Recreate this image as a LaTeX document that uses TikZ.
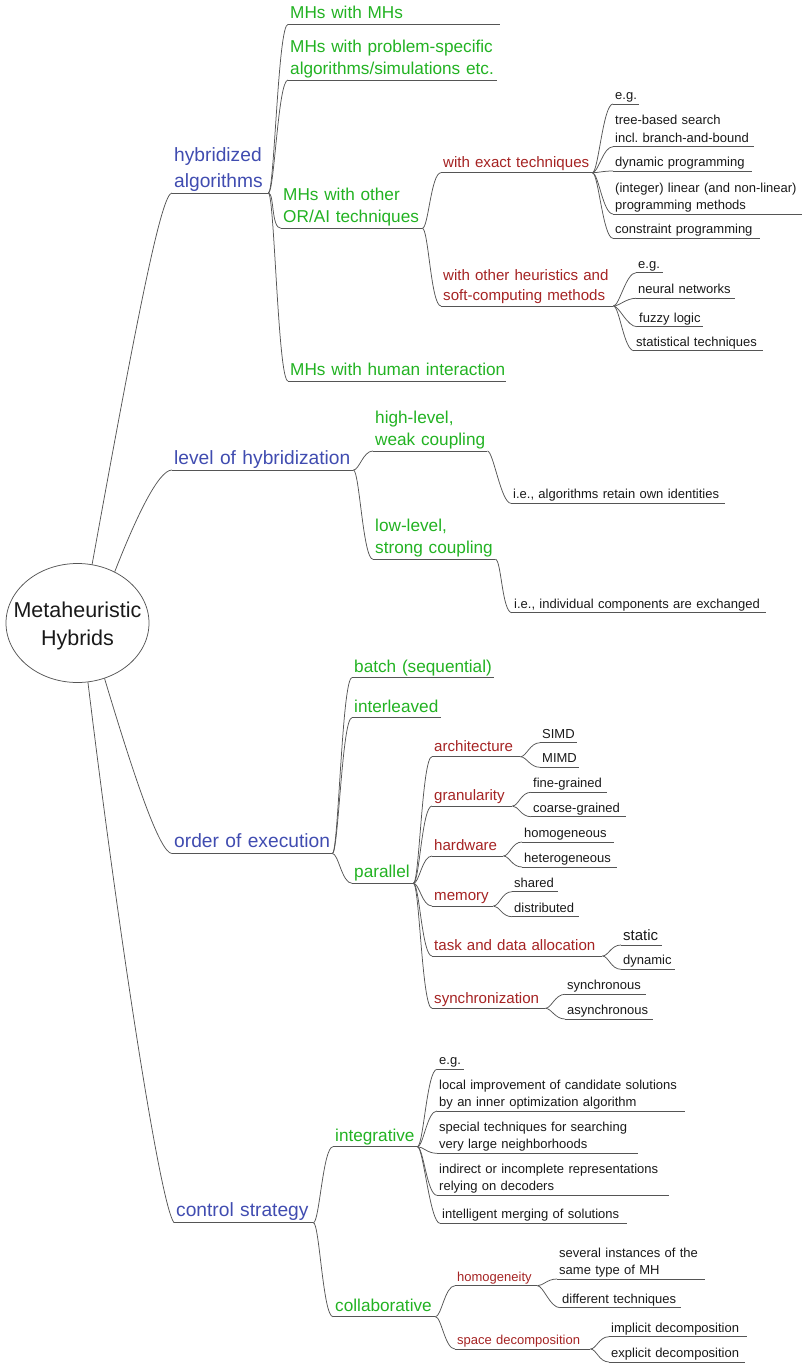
\documentclass[tikz,border=0pt]{standalone}
\usepackage{fontspec}
\setmainfont{Liberation Sans}
\usepackage{tikz}
\usetikzlibrary{shapes.geometric, positioning}
\definecolor{mmBlue}{RGB}{64, 76, 176}
\definecolor{mmGreen}{RGB}{34, 178, 34}
\definecolor{mmRed}{RGB}{165, 35, 35}
\definecolor{mmGray}{RGB}{85, 85, 85}
\definecolor{mmBlack}{RGB}{25, 25, 25}
\hyphenpenalty=10000
\exhyphenpenalty=10000

\begin{document}
\begin{tikzpicture}[
      x=1pt, y=-1pt,
      mm/.style      = {anchor=south west, inner xsep=2pt, inner ysep=1.5pt,
                        align=left,
                        execute at end node={\rule[-0.22em]{0pt}{0pt}}},
      lvone/.style   = {mm, text=mmBlue,  font=\fontsize{19.2}{25.6}\selectfont},
      lvtwo/.style   = {mm, text=mmGreen, font=\fontsize{17.2}{22.4}\selectfont},
      lvthree/.style = {mm, text=mmRed,   font=\fontsize{15.1}{20}\selectfont},
      lvsmall/.style = {mm, text=mmRed,   font=\fontsize{13}{17.2}\selectfont},
      leaf/.style    = {mm, text=mmBlack, font=\fontsize{13}{17.3}\selectfont},
      uline/.style   = {draw=mmGray, line width=0.75pt},
      link/.style    = {draw=mmGray, line width=0.75pt},
      twig/.style    = {out=0, in=180, out distance=6pt, in distance=10pt},
    ]
    \useasboundingbox (0,0) rectangle (802,1363);
    %% ── Root ───────────────────────────────────────────────────
    \node[draw=mmGray, line width=0.75pt, ellipse, inner sep=0pt,
          minimum width=143pt, minimum height=119pt,
          label={[align=center, text=mmBlack, yshift=-3pt,
                  font=\fontsize{21.5}{27.7}\selectfont]center:Metaheuristic\\Hybrids}]
          (root) at (77.5,623) {};
    %% ── Level 1 ────────────────────────────────────────────────
    \node[lvone, text width=92pt]  (hyb) at (172,193)    {hybridized\\algorithms};
    \node[lvone, text width=177pt] (lev) at (172,470)    {level of hybridization};
    \node[lvone, text width=156pt] (ord) at (172,853.5)  {order of execution};
    \node[lvone, text width=135pt] (ctl) at (174,1222.7) {control strategy};
    %% ── hybridized algorithms ──────────────────────────────────
    \node[lvtwo, text width=208pt] (mhmh) at (288,24.3) {MHs with MHs};
    \node[lvtwo, text width=205pt] (mhps) at (288,80)
      {MHs with problem-specific\\algorithms/simulations etc.};
    \node[lvtwo, text width=137pt] (mhor) at (281,228.3) {MHs with other\\OR/AI techniques};
    \node[lvtwo, text width=214pt] (mhhu) at (288,381)   {MHs~with~human~interaction};
    \node[lvthree, text width=147pt] (exact) at (441,172.7) {with exact techniques};
    \node[lvthree, text width=168pt] (other) at (441,306)
      {with other heuristics and\\soft-computing methods};
    \node[leaf, text width=22pt]  (egA)    at (613,104)   {e.g.};
    \node[leaf, text width=137pt] (tree)   at (613,146.7) {tree-based search\\incl.\ branch-and-bound};
    \node[leaf, text width=135pt] (dyn)    at (613,171)   {dynamic programming};
    \node[leaf, text width=185pt] (intlin) at (613,214)
      {(integer) linear (and non-linear)\\programming methods};
    \node[leaf, text width=143pt] (cons)   at (613,238.3) {constraint programming};
    \node[leaf, text width=23pt]  (egB)    at (636,272.7) {e.g.};
    \node[leaf, text width=95pt]  (neur)   at (636,298.3) {neural networks};
    \node[leaf, text width=62pt]  (fuzzy)  at (637,326.7) {fuzzy logic};
    \node[leaf, text width=125pt] (stat)   at (634,350.7) {statistical techniques};
    %% ── level of hybridization ─────────────────────────────────
    \node[lvtwo, text width=110pt] (hiwk) at (373,451)   {high-level,\\weak coupling};
    \node[lvtwo, text width=118pt] (lost) at (373,559.3) {low-level,\\strong coupling};
    \node[leaf, text width=210pt] (ret)  at (511,503.3)
      {i.e., algorithms retain own identities};
    \node[leaf, text width=250pt] (exch) at (512,612.7)
      {i.e., individual components are exchanged};
    %% ── order of execution ─────────────────────────────────────
    \node[lvtwo, text width=138pt] (batch) at (352,677.7) {batch (sequential)};
    \node[lvtwo, text width=85pt]  (inter) at (352,717.7) {interleaved};
    \node[lvtwo, text width=57pt]  (para)  at (352,883.3) {parallel};
    \node[lvthree, text width=84pt]  (arch) at (432,756.7)  {architecture};
    \node[lvthree, text width=76pt]  (gran) at (432,806)    {granularity};
    \node[lvthree, text width=67pt]  (hard) at (432,856)    {hardware};
    \node[lvthree, text width=57pt]  (mem)  at (432,906)    {memory};
    \node[lvthree, text width=166pt] (task) at (432,956)    {task and data allocation};
    \node[lvthree, text width=109pt] (sync) at (432,1008.3) {synchronization};
    \node[leaf, text width=33pt] (simd)   at (540,742.7)  {SIMD};
    \node[leaf, text width=35pt] (mimd)   at (540,767.3)  {MIMD};
    \node[leaf, text width=72pt] (fine)   at (531,792.3)  {fine-grained};
    \node[leaf, text width=91pt] (coarse) at (531,816.7)  {coarse-grained};
    \node[leaf, text width=88pt] (homo)   at (522,842)    {homogeneous};
    \node[leaf, text width=91pt] (hetero) at (522,867)    {heterogeneous};
    \node[leaf, text width=42pt] (shar)   at (512,891.7)  {shared};
    \node[leaf, text width=63pt] (dist)   at (512,916.7)  {distributed};
    \node[leaf, text width=37pt, font=\fontsize{15}{20}\selectfont]
                                 (static) at (621,945)    {static};
    \node[leaf, text width=50pt] (dynam)  at (621,969.3)  {dynamic};
    \node[leaf, text width=77pt] (synch)  at (565,994.3)  {synchronous};
    \node[leaf, text width=84pt] (async)  at (565,1019)   {asynchronous};
    %% ── control strategy ───────────────────────────────────────
    \node[lvtwo, text width=80pt] (integ)  at (333,1146.7) {integrative};
    \node[lvtwo, text width=98pt] (collab) at (333,1316.7) {collaborative};
    \node[leaf, text width=23pt]  (egC)   at (437,1069.3) {e.g.};
    \node[leaf, text width=244pt] (local) at (437,1111)
      {local improvement of candidate solutions\\by an inner optimization algorithm};
    \node[leaf, text width=197pt] (spec)  at (437,1153.3)
      {special techniques for searching\\very large neighborhoods};
    \node[leaf, text width=228pt] (indir) at (437,1195.3)
      {indirect or incomplete representations\\relying on decoders};
    \node[leaf, text width=183pt] (merg)  at (440,1223.3) {intelligent merging of solutions};
    \node[lvsmall, text width=78pt]  (homog) at (455,1285.7) {homogeneity};
    \node[lvsmall, text width=131pt] (space) at (455,1349)   {space decomposition};
    \node[leaf, text width=144pt] (sev)  at (557,1279)   {several instances of the\\same type of MH};
    \node[leaf, text width=117pt] (diff) at (560,1307.7) {different techniques};
    \node[leaf, text width=134pt] (impl) at (609,1336.7) {implicit decomposition};
    \node[leaf, text width=132pt] (expl) at (609,1362)   {explicit decomposition};
    %% ── Underlines ─────────────────────────────────────────────
    \foreach \n in {hyb, lev, ord, ctl, mhmh, mhps, mhor, mhhu, exact, other,
                    egA, tree, dyn, intlin, cons, egB, neur, fuzzy, stat,
                    hiwk, lost, ret, exch, batch, inter, para,
                    arch, gran, hard, mem, task, sync,
                    simd, mimd, fine, coarse, homo, hetero, shar, dist,
                    static, dynam, synch, async, integ, collab,
                    egC, local, spec, indir, merg, homog, space,
                    sev, diff, impl, expl}
      \draw[uline] (\n.south west) -- (\n.south east);
    %% ── Branches from the root ─────────────────────────────────
    \draw[link] (root.76)  .. controls (140,300)  and (162,193)    .. (hyb.south west);
    \draw[link] (root.54)  .. controls (135,520)  and (158,470)    .. (lev.south west);
    \draw[link] (root.-64) .. controls (135,780)  and (160,853.5)  .. (ord.south west);
    \draw[link] (root.-80) .. controls (118,930)  and (160,1205)   .. (ctl.south west);
    %% ── Branches between topics ────────────────────────────────
    \foreach \p/\c in {hyb/mhmh, hyb/mhps, hyb/mhor, hyb/mhhu,
                       mhor/exact, mhor/other,
                       exact/egA, exact/tree, exact/dyn, exact/intlin, exact/cons,
                       other/egB, other/neur, other/fuzzy, other/stat,
                       lev/hiwk, lev/lost, hiwk/ret, lost/exch,
                       ord/batch, ord/inter, ord/para,
                       para/arch, para/gran, para/hard, para/mem, para/task, para/sync,
                       arch/simd, arch/mimd, gran/fine, gran/coarse,
                       hard/homo, hard/hetero, mem/shar, mem/dist,
                       task/static, task/dynam, sync/synch, sync/async,
                       ctl/integ, ctl/collab,
                       integ/egC, integ/local, integ/spec, integ/indir, integ/merg,
                       collab/homog, collab/space,
                       homog/sev, homog/diff, space/impl, space/expl}
      \draw[link] (\p.south east) to[twig] (\c.south west);
  \end{tikzpicture}
\end{document}
